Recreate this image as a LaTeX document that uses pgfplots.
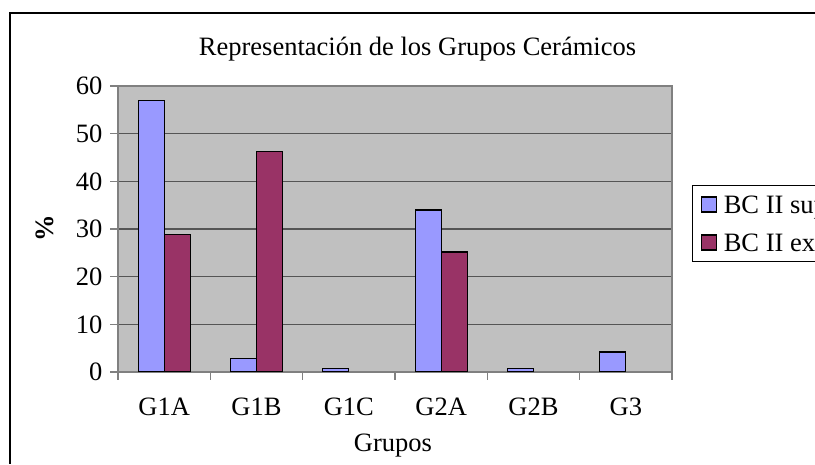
\documentclass[border=0pt]{standalone}
\usepackage{fontspec}
\setmainfont{Liberation Serif}
\usepackage{pgfplots}
\pgfplotsset{compat=1.18}
\definecolor{cblue}{HTML}{9999FF}
\definecolor{cplum}{HTML}{993366}
\definecolor{cgray}{HTML}{C0C0C0}
\definecolor{cgrid}{HTML}{555555}
\definecolor{cborder}{HTML}{808080}
\newcommand{\bigf}{\fontsize{26.5}{31}\selectfont}
\begin{document}
\begin{tikzpicture}[x=1pt,y=1pt]
\useasboundingbox (0,0) rectangle (815,464);
\clip (0,0) rectangle (815,464);
\fill[white] (0,0) rectangle (815,464);
\draw[black, line width=2pt] (10,451) rectangle (860,-30);
\node[font=\bigf, anchor=base, inner sep=0pt] at (417.5,408.3) {Representación de los Grupos Cerámicos};
\node[font=\bigf\bfseries, rotate=90, inner sep=0pt] at (45,236) {\%};
\node[font=\bigf, anchor=base, inner sep=0pt] at (393,12) {Grupos};
\begin{axis}[
  at={(118pt,92pt)}, anchor=south west,
  scale only axis, width=554pt, height=286pt,
  xmin=-0.5, xmax=5.5, ymin=0, ymax=60,
  ybar=0pt, bar width=26pt,
  axis background/.style={fill=cgray},
  axis line style={cborder, line width=1.2pt},
  xtick={0,...,5}, xticklabels={G1A,G1B,G1C,G2A,G2B,G3},
  major x tick style={draw=none},
  minor xtick={-0.5,0.5,...,5.5},
  minor x tick style={cborder, line width=1.2pt},
  major y tick style={cborder, line width=1.2pt},
  ytick={0,10,...,60},
  tick align=outside, xtick pos=bottom, ytick pos=left,
  major tick length=8pt, minor tick length=8pt,
  ymajorgrids, grid style={cgrid, line width=1.2pt},
  /pgf/number format/assume math mode=true,
  ticklabel style={font=\bigf},
  xticklabel style={yshift=-14pt},
  yticklabel style={xshift=-4pt},
  legend style={at={(1.0361,0.6538)}, anchor=north west, draw=black, line width=1pt, fill=white,
    font=\bigf, legend cell align=left, inner xsep=8pt, inner ysep=7pt, row sep=14pt, column sep=5pt},
  legend image code/.code={\draw[#1,draw=black,line width=1.3pt] (0pt,-7.5pt) rectangle (15pt,7.5pt);},
]
\addplot[fill=cblue, draw=black, line width=1.3pt] coordinates {(0,57) (1,2.9) (2,0.8) (3,34) (4,0.7) (5,4.2)};
\addplot[fill=cplum, draw=black, line width=1.3pt] coordinates {(0,28.9) (1,46.2) (3,25.2)};
\legend{BC II superficie, BC II excavación}
\end{axis}
\end{tikzpicture}
\end{document}
